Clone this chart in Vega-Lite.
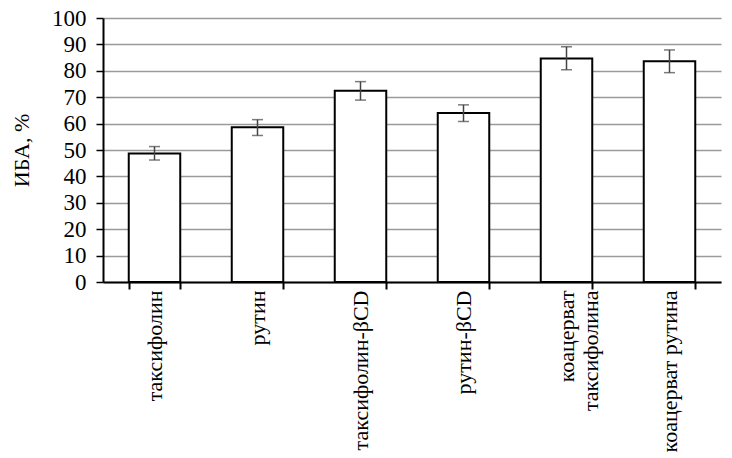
{
  "$schema": "https://vega.github.io/schema/vega-lite/v6.json",
  "width": 618,
  "height": 264,
  "autosize": {"type": "none"},
  "padding": {"left": 103, "top": 18, "right": 11, "bottom": 176},
  "background": "white",
  "config": {
    "view": {"stroke": null},
    "font": "Liberation Serif"
  },
  "resolve": {"axis": {"y": "independent"}, "scale": {"y": "shared"}},
  "data": {
    "values": [
      {"name": "таксифолин", "value": 48.7, "lo": 46.2, "hi": 51.3},
      {"name": "рутин", "value": 58.6, "lo": 55.5, "hi": 61.5},
      {"name": "таксифолин-βCD", "value": 72.4, "lo": 68.9, "hi": 75.9},
      {"name": "рутин-βCD", "value": 64.0, "lo": 60.8, "hi": 67.1},
      {"name": "коацерват|таксифолина", "value": 84.7, "lo": 80.4, "hi": 89.1},
      {"name": "коацерват рутина", "value": 83.6, "lo": 79.3, "hi": 87.9}
    ]
  },
  "encoding": {
    "x": {
      "field": "name",
      "type": "nominal",
      "sort": null,
      "scale": {"paddingInner": 0.5, "paddingOuter": 0.25},
      "axis": {
        "title": null,
        "labelAngle": -90,
        "labelFontSize": 22,
        "labelColor": "black",
        "labelExpr": "split(datum.label, '|')",
        "labelLineHeight": 24,
        "labelPadding": 1,
        "labelOverlap": false,
        "tickBand": "extent",
        "tickSize": 7,
        "tickWidth": 2,
        "tickColor": "black",
        "domainColor": "black",
        "domainWidth": 2,
        "grid": false
      }
    }
  },
  "layer": [
    {
      "mark": {"type": "bar", "fill": "white", "stroke": "black", "strokeWidth": 2},
      "encoding": {
        "y": {
          "field": "value",
          "type": "quantitative",
          "scale": {"domain": [0, 100], "nice": false},
          "axis": {
            "title": "ИБА, %",
            "values": [0, 10, 20, 30, 40, 50, 60, 70, 80, 90, 100],
            "titleFontSize": 22,
            "titleFontWeight": "normal",
            "titleColor": "black",
            "titlePadding": 18,
            "labelOverlap": false,
            "labelFontSize": 23,
            "labelColor": "black",
            "labelPadding": 10,
            "tickSize": 7,
            "tickWidth": 1.5,
            "tickColor": "black",
            "domainColor": "black",
            "domainWidth": 2,
            "grid": true,
            "gridColor": "#9a9a9a",
            "gridWidth": 1.5
          }
        }
      }
    },
    {
      "mark": {"type": "rule", "color": "#444444", "strokeWidth": 1.5},
      "encoding": {
        "y": {"field": "lo", "type": "quantitative", "axis": null},
        "y2": {"field": "hi"}
      }
    },
    {
      "mark": {"type": "tick", "color": "#444444", "thickness": 1.5, "size": 11, "orient": "horizontal"},
      "encoding": {"y": {"field": "lo", "type": "quantitative", "axis": null}}
    },
    {
      "mark": {"type": "tick", "color": "#444444", "thickness": 1.5, "size": 11, "orient": "horizontal"},
      "encoding": {"y": {"field": "hi", "type": "quantitative", "axis": null}}
    }
  ]
}
